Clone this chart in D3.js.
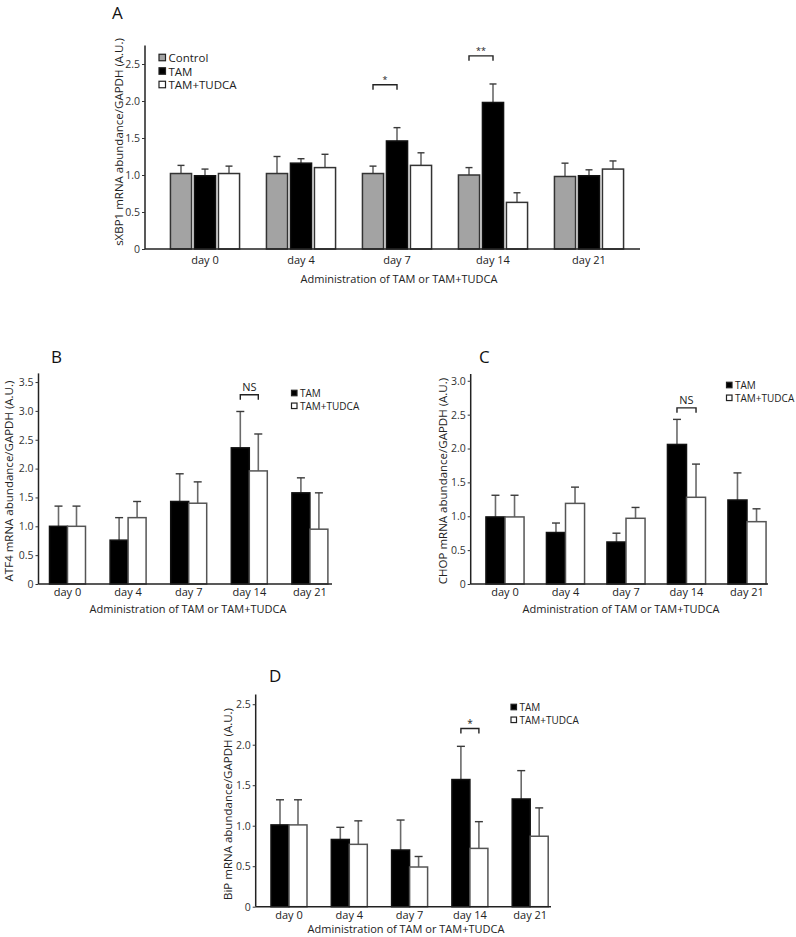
<!DOCTYPE html>
<html>
<head>
<meta charset="utf-8">
<script src="https://cdn.jsdelivr.net/npm/d3@7"></script>
<style>
  html, body { margin: 0; padding: 0; background: #fff; }
  svg { display: block; font-family: "Open Sans", "DejaVu Sans", sans-serif; }
</style>
</head>
<body>
<svg id="chart" width="796" height="937"></svg>
<script>
// ---------------- DATA ----------------
const days = ["day 0", "day 4", "day 7", "day 14", "day 21"];
const yTicksA = [0, 0.5, 1.0, 1.5, 2.0, 2.5];
const yTicksB = [0, 0.5, 1.0, 1.5, 2.0, 2.5, 3.0, 3.5];
const yTicksC = [0, 0.5, 1.0, 1.5, 2.0, 2.5, 3.0];
const yTicksD = [0, 0.5, 1.0, 1.5, 2.0, 2.5];

// Panel A: sXBP1
const xbp1Control    = [1.02, 1.02, 1.02, 1.00, 0.98];
const xbp1ControlErr = [0.11, 0.23, 0.10, 0.10, 0.18];
const xbp1Tam        = [0.99, 1.16, 1.46, 1.98, 0.99];
const xbp1TamErr     = [0.09, 0.06, 0.18, 0.25, 0.08];
const xbp1Tudca      = [1.02, 1.10, 1.13, 0.63, 1.08];
const xbp1TudcaErr   = [0.10, 0.18, 0.17, 0.13, 0.11];

// Panel B: ATF4
const atf4Tam      = [1.00, 0.76, 1.43, 2.36, 1.58];
const atf4TamErr   = [0.35, 0.39, 0.48, 0.63, 0.26];
const atf4Tudca    = [1.00, 1.15, 1.40, 1.96, 0.95];
const atf4TudcaErr = [0.35, 0.28, 0.37, 0.64, 0.63];

// Panel C: CHOP
const chopTam      = [0.99, 0.76, 0.62, 2.06, 1.24];
const chopTamErr   = [0.32, 0.14, 0.13, 0.37, 0.40];
const chopTudca    = [0.99, 1.19, 0.97, 1.28, 0.92];
const chopTudcaErr = [0.32, 0.24, 0.16, 0.49, 0.19];

// Panel D: BiP
const bipTam      = [1.01, 0.83, 0.70, 1.57, 1.33];
const bipTamErr   = [0.31, 0.15, 0.37, 0.41, 0.35];
const bipTudca    = [1.01, 0.77, 0.49, 0.72, 0.87];
const bipTudcaErr = [0.31, 0.29, 0.13, 0.33, 0.35];

// significance marks: [day, label, bracket height (data units)]
const sigA = [["day 7", "*", 2.22], ["day 14", "**", 2.61]];
const sigB = [["day 14", "NS", 3.28]];
const sigC = [["day 14", "NS", 2.60]];
const sigD = [["day 14", "*", 2.20]];

const xTitle = "Administration of TAM or TAM+TUDCA";

// ---------------- DRAWING ----------------
const svg = d3.select("#chart");
const fill = { "Control": "#a3a3a3", "TAM": "#000000", "TAM+TUDCA": "#ffffff" };

function panel(cfg) {
  const g = svg.append("g");
  const y = d3.scaleLinear().domain([0, cfg.yMax]).range([cfg.y0, cfg.yTop]);
  const x = d3.scaleBand().domain(days).range(cfg.xRange)
    .paddingInner(cfg.padInner).paddingOuter(cfg.padInner / 2);
  const names = cfg.series.map(s => s.name);
  const xs = d3.scaleBand().domain(names).range([0, x.bandwidth()]).paddingInner(cfg.subPad);

  // bars
  cfg.series.forEach(s => {
    const rows = days.map((d, i) => ({ d, v: s.values[i], e: s.errs[i] }));
    const eg = g.append("g");
    rows.forEach(r => {
      const cx = x(r.d) + xs(s.name) + xs.bandwidth() / 2;
      eg.append("line").attr("x1", cx).attr("x2", cx)
        .attr("y1", y(r.v)).attr("y2", y(r.v + r.e))
        .attr("stroke", "#6a6a6a").attr("stroke-width", 1.6);
      eg.append("line").attr("x1", cx - cfg.cap).attr("x2", cx + cfg.cap)
        .attr("y1", y(r.v + r.e)).attr("y2", y(r.v + r.e))
        .attr("stroke", "#3a3a3a").attr("stroke-width", 1.4);
    });
    g.append("g").selectAll("rect").data(rows).join("rect")
      .attr("x", r => x(r.d) + xs(s.name))
      .attr("width", xs.bandwidth())
      .attr("y", r => y(r.v))
      .attr("height", r => y(0) - y(r.v))
      .attr("fill", fill[s.name])
      .attr("stroke", s.name === "TAM" ? "#111" : cfg.barStroke)
      .attr("stroke-width", 1.5);
  });

  // y axis
  const ya = g.append("g").attr("transform", `translate(${cfg.x0},0)`)
    .call(d3.axisLeft(y).tickValues(cfg.ticks).tickSize(3).tickPadding(2)
      .tickFormat(v => v === 0 ? "0" : d3.format(".1f")(v)));
  ya.select(".domain").attr("stroke", "#222").attr("stroke-width", 1.5)
    .attr("d", `M0,${cfg.yTop}V${cfg.y0}`);
  ya.selectAll(".tick line").attr("stroke", "#333");
  ya.selectAll(".tick text").attr("font-size", 10.5).attr("fill", "#333")
    .attr("font-family", "'Open Sans', sans-serif");

  // x axis
  const xa = g.append("g").attr("transform", `translate(0,${cfg.y0})`)
    .call(d3.axisBottom(x).tickSize(0).tickPadding(cfg.xLabPad));
  xa.select(".domain").attr("stroke", "#222").attr("stroke-width", 1.5)
    .attr("d", `M${cfg.x0},0H${cfg.xEnd}`);
  xa.selectAll(".tick text").attr("font-size", 11).attr("fill", "#222")
    .attr("font-family", "'Open Sans', sans-serif");

  // titles
  g.append("text").attr("x", cfg.xTitleX).attr("y", cfg.xTitleY)
    .attr("text-anchor", "middle").attr("font-size", 11).attr("fill", "#222").text(xTitle);
  g.append("text")
    .attr("transform", `translate(${cfg.yLabX},${cfg.yLabY}) rotate(-90)`)
    .attr("text-anchor", "middle").attr("dominant-baseline", "central")
    .attr("font-size", cfg.yLabFont).attr("fill", "#222").text(cfg.yLabel);
  g.append("text").attr("x", cfg.letterX).attr("y", cfg.letterY)
    .attr("font-size", 17).attr("fill", "#111").text(cfg.letter);

  // significance brackets
  cfg.sig.forEach(([d, lab, h]) => {
    const a = x(d) + xs(names[cfg.sigPair[0]]) + xs.bandwidth() / 2;
    const b = x(d) + xs(names[cfg.sigPair[1]]) + xs.bandwidth() / 2;
    const yy = y(h);
    g.append("path").attr("d", `M${a},${yy + 5}V${yy}H${b}V${yy + 5}`)
      .attr("fill", "none").attr("stroke", "#222").attr("stroke-width", 1.4);
    g.append("text").attr("x", (a + b) / 2).attr("y", yy - cfg.sigGap)
      .attr("text-anchor", "middle").attr("font-size", cfg.sigFont)
      .attr("fill", "#222").text(lab);
  });

  // legend
  cfg.series.forEach((s, i) => {
    const yy = cfg.legY + i * cfg.legStep;
    g.append("rect").attr("x", cfg.legX).attr("y", yy - cfg.legSq / 2)
      .attr("width", cfg.legSq).attr("height", cfg.legSq)
      .attr("fill", fill[s.name]).attr("stroke", "#222").attr("stroke-width", 1.2);
    g.append("text").attr("x", cfg.legX + cfg.legSq + 3).attr("y", yy)
      .attr("dominant-baseline", "central").attr("font-size", cfg.legFont)
      .attr("fill", "#222").text(s.name);
  });
}

panel({
  letter: "A", letterX: 112, letterY: 19,
  x0: 145, xEnd: 640, xRange: [157, 637], padInner: 0.28, subPad: 0.12,
  y0: 249, yTop: 45.5, yMax: 2.75, ticks: yTicksA, cap: 3.5, barStroke: "#333",
  xLabPad: 7, xTitleX: 399, xTitleY: 283,
  yLabel: "sXBP1 mRNA abundance/GAPDH (A.U.)", yLabX: 118, yLabY: 142, yLabFont: 11.5,
  series: [
    { name: "Control", values: xbp1Control, errs: xbp1ControlErr },
    { name: "TAM", values: xbp1Tam, errs: xbp1TamErr },
    { name: "TAM+TUDCA", values: xbp1Tudca, errs: xbp1TudcaErr }
  ],
  sig: sigA, sigPair: [0, 1], sigGap: 2, sigFont: 9,
  legX: 159, legY: 57.5, legStep: 13.5, legSq: 6.5, legFont: 11.5
});

panel({
  letter: "B", letterX: 51, letterY: 363,
  x0: 38.5, xEnd: 332, xRange: [37.2, 340.2], padInner: 0.406, subPad: 0,
  y0: 584, yTop: 373.4, yMax: 3.65, ticks: yTicksB, cap: 4, barStroke: "#555",
  xLabPad: 4, xTitleX: 188, xTitleY: 613,
  yLabel: "ATF4 mRNA abundance/GAPDH (A.U.)", yLabX: 8, yLabY: 481, yLabFont: 11.5,
  series: [
    { name: "TAM", values: atf4Tam, errs: atf4TamErr },
    { name: "TAM+TUDCA", values: atf4Tudca, errs: atf4TudcaErr }
  ],
  sig: sigB, sigPair: [0, 1], sigGap: 4, sigFont: 11,
  legX: 291.5, legY: 393, legStep: 12.8, legSq: 5.5, legFont: 10
});

panel({
  letter: "C", letterX: 479, letterY: 363,
  x0: 470.7, xEnd: 768, xRange: [474.75, 777.25], padInner: 0.37, subPad: 0,
  y0: 584, yTop: 374, yMax: 3.1, ticks: yTicksC, cap: 4, barStroke: "#555",
  xLabPad: 4, xTitleX: 621, xTitleY: 613,
  yLabel: "CHOP mRNA abundance/GAPDH (A.U.)", yLabX: 442, yLabY: 481, yLabFont: 11.5,
  series: [
    { name: "TAM", values: chopTam, errs: chopTamErr },
    { name: "TAM+TUDCA", values: chopTudca, errs: chopTudcaErr }
  ],
  sig: sigC, sigPair: [0, 1], sigGap: 4, sigFont: 11,
  legX: 726.5, legY: 385, legStep: 12.8, legSq: 5.5, legFont: 10
});

panel({
  letter: "D", letterX: 269, letterY: 682,
  x0: 255.7, xEnd: 551, xRange: [258.85, 560.35], padInner: 0.403, subPad: 0,
  y0: 906.7, yTop: 694.5, yMax: 2.62, ticks: yTicksD, cap: 4, barStroke: "#555",
  xLabPad: 4, xTitleX: 406, xTitleY: 933,
  yLabel: "BiP mRNA abundance/GAPDH (A.U.)", yLabX: 227, yLabY: 804, yLabFont: 11.5,
  series: [
    { name: "TAM", values: bipTam, errs: bipTamErr },
    { name: "TAM+TUDCA", values: bipTudca, errs: bipTudcaErr }
  ],
  sig: sigD, sigPair: [0, 1], sigGap: 2, sigFont: 10,
  legX: 511, legY: 707, legStep: 12.8, legSq: 5.5, legFont: 10
});
</script>
</body>
</html>
